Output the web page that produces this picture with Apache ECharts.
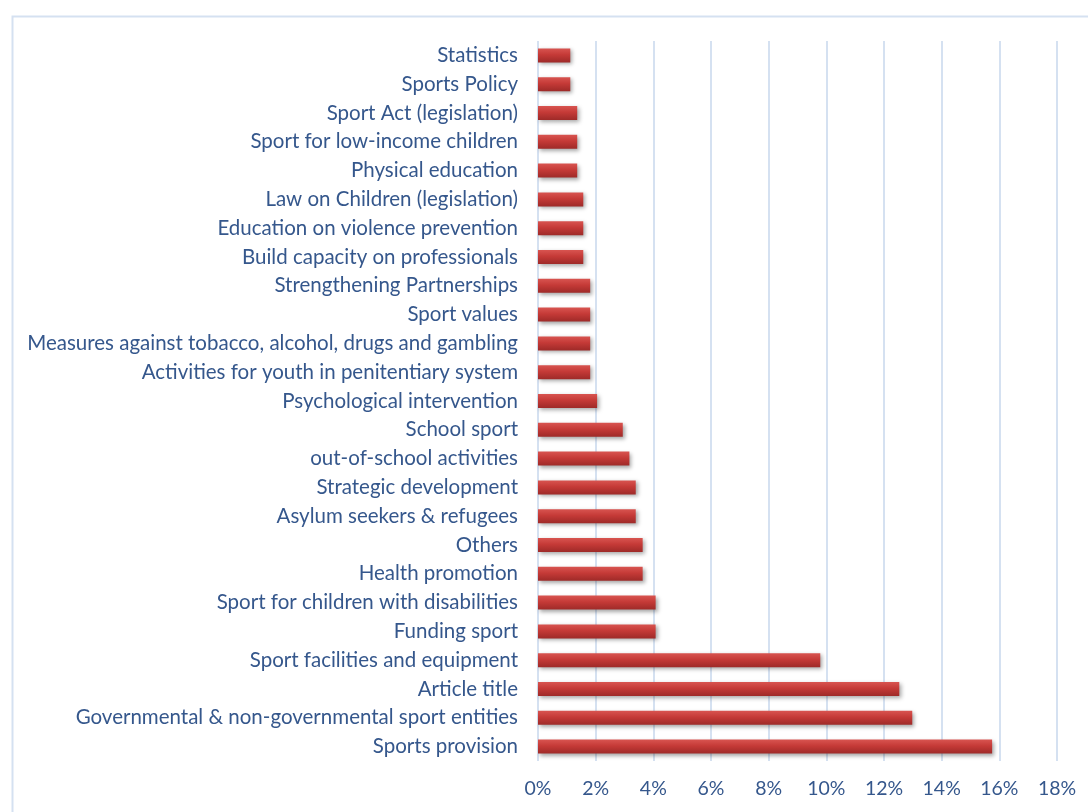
<!DOCTYPE html>
<html>
<head>
<meta charset="utf-8">
<script src="https://cdn.jsdelivr.net/npm/echarts@6/dist/echarts.min.js"></script>
<style>
  html, body { margin: 0; padding: 0; background: #ffffff; }
  #chart { width: 1088px; height: 812px; }
</style>
</head>
<body>
<div id="chart"></div>
<script>
// Categories, bottom to top (ECharts category axis draws the first entry at the bottom)
const categories = [
  'Sports provision',
  'Governmental & non-governmental sport entities',
  'Article title',
  'Sport facilities and equipment',
  'Funding sport',
  'Sport for children with disabilities',
  'Health promotion',
  'Others',
  'Asylum seekers & refugees',
  'Strategic development',
  'out-of-school activities',
  'School sport',
  'Psychological intervention',
  'Activities for youth in penitentiary system',
  'Measures against tobacco, alcohol, drugs and gambling',
  'Sport values',
  'Strengthening Partnerships',
  'Build capacity on professionals',
  'Education on violence prevention',
  'Law on Children (legislation)',
  'Physical education',
  'Sport for low-income children',
  'Sport Act (legislation)',
  'Sports Policy',
  'Statistics'
];

// Share of mentions, in percent
const shares = [
  15.75, 12.98, 12.53, 9.79, 4.08, 4.08, 3.63, 3.63, 3.39, 3.39,
  3.17, 2.94, 2.05, 1.81, 1.81, 1.81, 1.81, 1.57, 1.57, 1.57,
  1.36, 1.36, 1.36, 1.12, 1.12
];

// Value axis ticks
const axisMin = 0;
const axisMax = 18;
const axisStep = 2;

const textColor = '#35578C';
const gridColor = '#D5E1F1';
const fontFamily = 'Lato, "Open Sans", sans-serif';

const chart = echarts.init(document.getElementById('chart'), null, { renderer: 'canvas' });

chart.setOption({
  backgroundColor: '#ffffff',
  animation: false,
  graphic: [{
    type: 'rect',
    left: 10,
    top: 14,
    shape: { width: 1200, height: 900 },
    style: { fill: 'none', stroke: '#D5E1F1', lineWidth: 2 },
    silent: true,
    z: -10
  }],
  grid: {
    left: 538,
    right: 31,
    top: 41,
    bottom: 51,
    containLabel: false
  },
  xAxis: {
    type: 'value',
    min: axisMin,
    max: axisMax,
    interval: axisStep,
    axisLine: { show: false },
    axisTick: { show: false },
    splitLine: { show: true, lineStyle: { color: gridColor, width: 2 } },
    axisLabel: {
      formatter: v => v + '%',
      color: textColor,
      fontFamily: fontFamily,
      fontSize: 19.5,
      margin: 18
    }
  },
  yAxis: {
    type: 'category',
    data: categories,
    axisLine: { show: false },
    axisTick: { show: false },
    axisLabel: {
      color: textColor,
      fontFamily: fontFamily,
      fontSize: 20.5,
      margin: 20
    }
  },
  series: [{
    type: 'bar',
    data: shares,
    barWidth: 14,
    itemStyle: {
      color: new echarts.graphic.LinearGradient(0, 0, 0, 1, [
        { offset: 0, color: '#D85450' },
        { offset: 0.45, color: '#C53A37' },
        { offset: 1, color: '#9E2A28' }
      ]),
      shadowColor: 'rgba(0,0,0,0.35)',
      shadowBlur: 4,
      shadowOffsetX: 2,
      shadowOffsetY: 2
    }
  }]
});
</script>
</body>
</html>
